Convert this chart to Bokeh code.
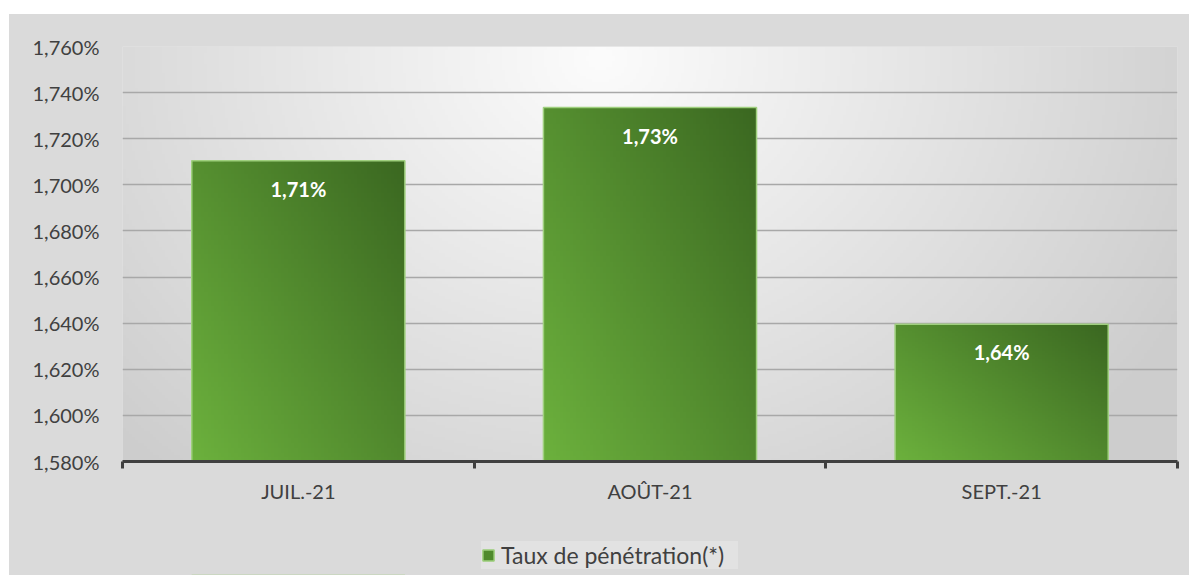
import numpy as np
from bokeh.plotting import figure
from bokeh.models import (Range1d, FixedTicker, CustomJSTickFormatter, Legend,
                          LegendItem, ColumnDataSource, Spacer)
from bokeh.layouts import column, row
from bokeh.core.properties import value
from bokeh.embed import file_html
from bokeh.resources import INLINE

# ---- data ----
categories = ["JUIL.-21", "AOÛT-21", "SEPT.-21"]
taux = [1.7105, 1.7335, 1.6395]          # Taux de pénétration (%)
value_labels = ["1,71%", "1,73%", "1,64%"]
y_ticks = [1.58, 1.60, 1.62, 1.64, 1.66, 1.68, 1.70, 1.72, 1.74, 1.76]
y_tick_labels = ["1,580%", "1,600%", "1,620%", "1,640%", "1,660%",
                 "1,680%", "1,700%", "1,720%", "1,740%", "1,760%"]
series_name = "Taux de pénétration(*)"

FONT = "Lato"
TXT = "#404040"
BORDER = "#dadada"
BAR_W = 0.606

xpos = [i + 0.5 for i in range(len(categories))]
bounds = [i for i in range(len(categories) + 1)]
base = y_ticks[0]

src = ColumnDataSource(dict(x=xpos, top=taux, lab=value_labels,
                            bottom=[base] * len(taux)))

FW, FH = 1055, 415
p = figure(width=1180, height=490, frame_width=FW, frame_height=FH,
           x_range=Range1d(bounds[0], bounds[-1]),
           y_range=Range1d(y_ticks[0], y_ticks[-1]),
           output_backend="svg", toolbar_location=None,
           min_border_left=113, min_border_right=12,
           min_border_top=32, min_border_bottom=43)
p.border_fill_color = BORDER
p.background_fill_color = "#e8e8e8"
p.outline_line_color = None

# soft radial background (style only)
h, w = FH // 3, FW // 3
yy, xx = np.mgrid[0:h, 0:w]
px = 123 + (xx + 0.5) * 3
py = 462 - (yy + 0.5) * 3
t = np.sqrt(((px - 600) / 620) ** 2 + ((py - 60) / 520) ** 2)
g = np.clip(252 - 44 * t, 205, 252).astype(np.uint32)
bg = (255 << 24) | (g << 16) | (g << 8) | g
p.image_rgba(image=[bg.astype(np.uint32)], x=bounds[0], y=y_ticks[0],
             dw=bounds[-1] - bounds[0], dh=y_ticks[-1] - y_ticks[0], level="image")

# diagonal green gradient texture for the bars (style only)
n = 64
v, u = np.mgrid[0:n, 0:n] / (n - 1)
s = np.clip((u * 0.55 + v * 0.45), 0, 1)
light = np.array([0x6c, 0xb1, 0x3d]); dark = np.array([0x3b, 0x68, 0x21])
rgb = (light[None, None, :] * (1 - s[..., None]) + dark[None, None, :] * s[..., None]).astype(np.uint32)
tex = ((255 << 24) | (rgb[..., 2] << 16) | (rgb[..., 1] << 8) | rgb[..., 0]).astype(np.uint32)
p.image_rgba(image=[tex] * len(taux), x=[c - BAR_W / 2 for c in xpos],
             y=[base] * len(taux), dw=[BAR_W] * len(taux),
             dh=[tv - base for tv in taux])

bars = p.vbar(x="x", top="top", bottom="bottom", width=BAR_W, source=src,
              fill_alpha=0, line_color="#9fd07e", line_width=1.5)

p.text(x="x", y="top", text="lab", source=src, text_font=value(FONT),
       text_font_style="bold", text_font_size="20px", text_color="white",
       text_align="center", text_baseline="middle", y_offset=28)

# y axis
p.yaxis.ticker = FixedTicker(ticks=y_ticks)
p.yaxis.formatter = CustomJSTickFormatter(
    args=dict(tvals=y_ticks, tlabs=y_tick_labels),
    code="""
    let best = 0;
    for (let i = 0; i < tvals.length; i++) {
        if (Math.abs(tvals[i] - tick) < Math.abs(tvals[best] - tick)) best = i;
    }
    return tlabs[best];
    """)
p.yaxis.axis_line_color = None
p.yaxis.major_tick_line_color = None
p.yaxis.minor_tick_line_color = None
p.yaxis.major_label_standoff = 17
p.yaxis.major_label_text_font = FONT
p.yaxis.major_label_text_font_size = "20px"
p.yaxis.major_label_text_color = TXT

# x axis
p.xaxis.ticker = FixedTicker(ticks=xpos, minor_ticks=bounds)
p.xaxis.formatter = CustomJSTickFormatter(
    args=dict(cats=categories),
    code="return cats[Math.round(tick - 0.5)];")
p.xaxis.axis_line_color = TXT
p.xaxis.axis_line_width = 3
p.xaxis.major_tick_line_color = None
p.xaxis.minor_tick_line_color = TXT
p.xaxis.minor_tick_line_width = 3
p.xaxis.minor_tick_in = 0
p.xaxis.minor_tick_out = 7
p.xaxis.major_label_standoff = 10
p.xaxis.major_label_text_font = FONT
p.xaxis.major_label_text_font_size = "20px"
p.xaxis.major_label_text_color = TXT

p.xgrid.grid_line_color = None
p.ygrid.grid_line_color = "#a8a8a8"
p.ygrid.grid_line_width = 1.3

# ---- legend strip (continuation of the chart area) ----
lf = figure(width=1180, height=70, frame_width=FW,
            x_range=Range1d(bounds[0], bounds[-1]), y_range=Range1d(100, 101),
            output_backend="svg", toolbar_location=None,
            x_axis_location=None, y_axis_location=None,
            min_border_left=113, min_border_right=12, min_border_top=0,
            min_border_bottom=0)
lf.border_fill_color = BORDER
lf.background_fill_color = None
lf.outline_line_color = None
lf.xgrid.grid_line_color = None
lf.ygrid.grid_line_color = None
# legend proxy: same series, lies far outside this strip's visible range
swatch = lf.vbar(x=[xpos[0]], top=[taux[0]], bottom=[base], width=BAR_W,
                 fill_color="#4f8a2c", line_color="#9fd07e", line_width=1.5)
legend = Legend(items=[LegendItem(label=series_name, renderers=[swatch])],
                location=(359, 6), orientation="horizontal",
                label_text_font=FONT, label_text_font_size="23px",
                label_text_color=TXT, glyph_width=14, glyph_height=14,
                label_standoff=6, padding=10, margin=0, label_width=237,
                background_fill_color="#e2e2e2", background_fill_alpha=1,
                border_line_color=None)
lf.add_layout(legend)

inner = column(p, lf, styles={"background-color": BORDER})
layout = column(Spacer(height=14, width=10),
                row(Spacer(width=9, height=10), inner))
open("out.html", "w").write(file_html(layout, INLINE))
